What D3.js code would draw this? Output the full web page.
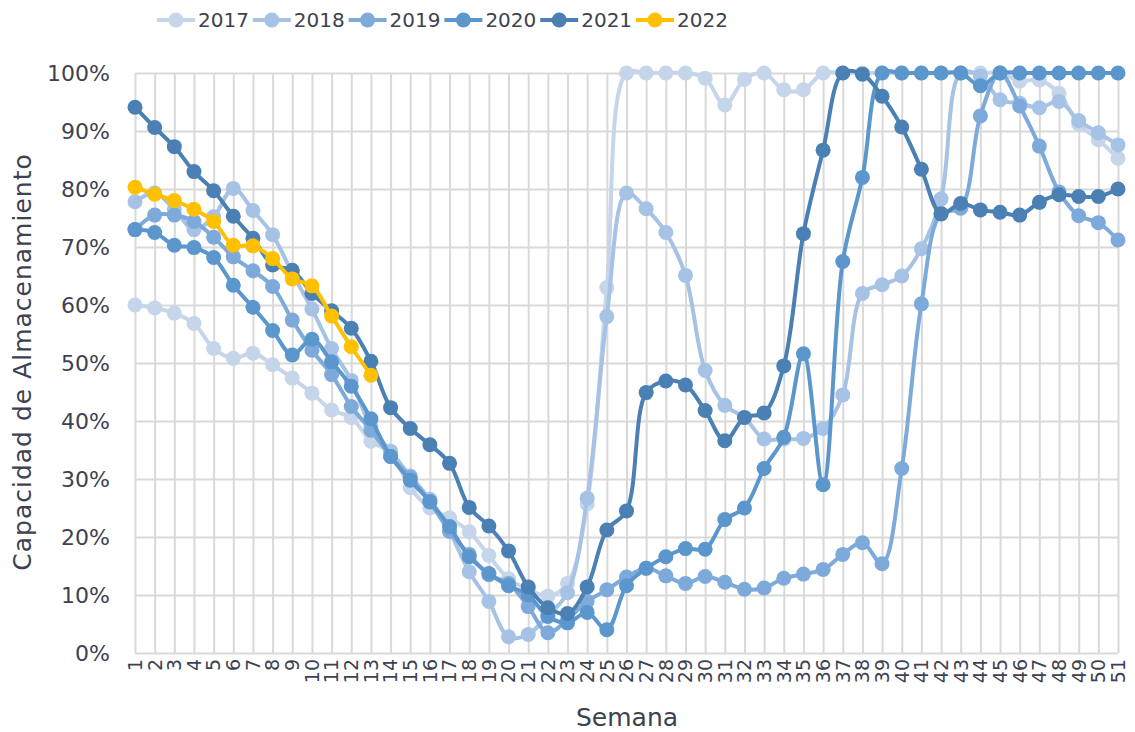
<!DOCTYPE html>
<html>
<head>
<meta charset="utf-8">
<script src="https://cdn.jsdelivr.net/npm/d3@7"></script>
<style>
  body { margin: 0; background: #fff; }
  svg text { font-family: "DejaVu Sans", sans-serif; fill: #3d4250; }
  .grid line { stroke: #d9d9d9; stroke-width: 2; }
  .grid path { display: none; }
</style>
</head>
<body>
<div id="chart"></div>
<script>
// *********************************************
// DATA (weekly storage capacity, fraction 0..1 shown as %)
// *********************************************
var weeks = ["1","2","3","4","5","6","7","8","9","10","11","12","13","14","15","16","17",
  "18","19","20","21","22","23","24","25","26","27","28","29","30","31","32","33","34",
  "35","36","37","38","39","40","41","42","43","44","45","46","47","48","49","50","51"];

var yTicks = [0, 0.1, 0.2, 0.3, 0.4, 0.5, 0.6, 0.7, 0.8, 0.9, 1];

var years = ["2017", "2018", "2019", "2020", "2021", "2022"];

var s2017 = [60.0,59.5,58.6,56.8,52.5,50.8,51.7,49.7,47.4,44.8,41.9,40.6,36.5,34.5,28.5,25.0,23.3,
  20.9,16.8,12.8,11.0,9.8,12.0,25.7,63.0,100,100,100,100,99.1,94.5,98.9,100,97.1,
  97.1,100,100,100,100,100,100,100,100,100,100,98.6,98.8,96.5,91.2,88.5,85.3];
var s2018 = [77.8,79.3,76.5,73.0,75.2,80.1,76.3,72.1,65.5,59.3,52.5,47.0,39.0,34.8,30.5,26.5,21.0,
  14.0,8.9,2.8,3.2,6.5,10.4,26.7,58.0,79.3,76.6,72.5,65.1,48.7,42.7,40.6,36.9,36.9,
  37.0,38.7,44.5,62.0,63.5,65.0,69.7,78.3,100,99.5,95.4,94.8,94.0,95.1,91.8,89.7,87.6];
var s2019 = [73.0,75.5,75.5,74.4,71.7,68.3,65.9,63.2,57.4,52.2,48.0,42.5,38.4,33.9,30.3,26.0,21.0,
  17.0,13.5,12.0,8.0,3.5,5.8,8.9,10.9,13.1,14.6,13.3,12.0,13.2,12.2,11.0,11.2,12.9,
  13.6,14.4,17.0,19.0,15.4,31.8,60.2,75.8,76.7,92.6,100,94.3,87.4,79.5,75.4,74.2,71.2];
var s2020 = [73.0,72.5,70.3,69.9,68.2,63.4,59.6,55.6,51.4,54.1,50.2,46.0,40.4,33.9,29.8,26.1,21.8,
  16.6,13.7,11.6,10.0,6.3,5.2,7.0,4.0,11.6,14.6,16.6,18.0,17.9,23.0,25.0,31.8,37.2,
  51.6,29.0,67.5,82.0,100,100,100,100,100,97.8,100,100,100,100,100,100,100];
var s2021 = [94.1,90.6,87.3,83.0,79.7,75.3,71.5,66.9,66.0,62.0,59.0,56.0,50.3,42.3,38.7,35.9,32.7,
  25.1,21.9,17.6,11.4,7.8,6.8,11.4,21.2,24.5,44.9,46.9,46.2,41.8,36.6,40.6,41.4,49.5,
  72.3,86.7,100,99.8,96.0,90.7,83.4,75.7,77.5,76.4,76.0,75.5,77.7,79.0,78.7,78.7,80.0];
var s2022 = [80.3,79.1,78.0,76.5,74.4,70.3,70.2,68.0,64.5,63.3,58.1,52.8,47.9];

var colors = ["#c5d5ea", "#a6c2e4", "#7eaadb", "#5b97cc", "#4a80b3", "#ffc000"];

// *********************************************
// SETUP
// *********************************************
var width = 1135, height = 732;
var margin = {left: 135, right: 17, top: 73, bottom: 79};

var svg = d3.select("#chart").append("svg")
    .attr("width", width)
    .attr("height", height);

var x = d3.scalePoint().domain(weeks).range([margin.left, width - margin.right]);
var y = d3.scaleLinear().domain([0, 1]).range([height - margin.bottom, margin.top]);

// gridlines
svg.append("g")
    .attr("class", "grid")
    .attr("transform", "translate(" + margin.left + ",0)")
    .call(d3.axisLeft(y).tickValues(yTicks).tickSize(-(width - margin.right - margin.left)).tickFormat(""));

svg.append("g")
    .attr("class", "grid")
    .attr("transform", "translate(0," + (height - margin.bottom) + ")")
    .call(d3.axisBottom(x).tickSize(-(height - margin.bottom - margin.top)).tickFormat(""));

// y tick labels
svg.append("g").selectAll("text")
  .data(yTicks).enter().append("text")
    .attr("x", 110)
    .attr("y", d => y(d))
    .attr("dy", "0.36em")
    .attr("text-anchor", "end")
    .style("font-size", "22px")
    .text(d3.format(".0%"));

// x tick labels (rotated)
svg.append("g").selectAll("text")
  .data(weeks).enter().append("text")
    .attr("transform", d => "translate(" + x(d) + "," + (height - margin.bottom + 6) + ") rotate(-90)")
    .attr("dy", "0.36em")
    .attr("text-anchor", "end")
    .style("font-size", "19px")
    .text(d => d);

// axis titles
svg.append("text")
    .attr("x", 627)
    .attr("y", 726)
    .attr("text-anchor", "middle")
    .style("font-size", "25px")
    .text("Semana");

svg.append("text")
    .attr("transform", "translate(31,362) rotate(-90)")
    .attr("text-anchor", "middle")
    .style("font-size", "25px")
    .style("letter-spacing", "1px")
    .text("Capacidad de Almacenamiento");

// *********************************************
// SERIES
// *********************************************
var series = [s2017, s2018, s2019, s2020, s2021, s2022];

var line = d3.line()
    .curve(d3.curveCatmullRom.alpha(0.5))
    .x(d => x(d.week))
    .y(d => y(d.value / 100));

series.forEach(function(vals, i) {
  var pts = vals.map((v, j) => ({week: weeks[j], value: v}));
  var g = svg.append("g").attr("class", "series y" + years[i]);

  g.append("path")
      .datum(pts)
      .attr("d", line)
      .style("fill", "none")
      .style("stroke", colors[i])
      .style("stroke-width", 4);

  g.selectAll("circle")
    .data(pts).enter().append("circle")
      .attr("cx", d => x(d.week))
      .attr("cy", d => y(d.value / 100))
      .attr("r", 7.5)
      .style("fill", colors[i]);
});

// *********************************************
// LEGEND
// *********************************************
var legend = svg.append("g").attr("class", "legend");
years.forEach(function(yr, i) {
  var lx = 157 + i * 95.8;
  var item = legend.append("g").attr("transform", "translate(" + lx + ",20)");
  item.append("line")
      .attr("x1", 0).attr("x2", 38)
      .style("stroke", colors[i])
      .style("stroke-width", 4);
  item.append("circle")
      .attr("cx", 19).attr("r", 7.5)
      .style("fill", colors[i]);
  item.append("text")
      .attr("x", 41)
      .attr("dy", "0.36em")
      .style("font-size", "20px")
      .text(yr);
});
</script>
</body>
</html>
